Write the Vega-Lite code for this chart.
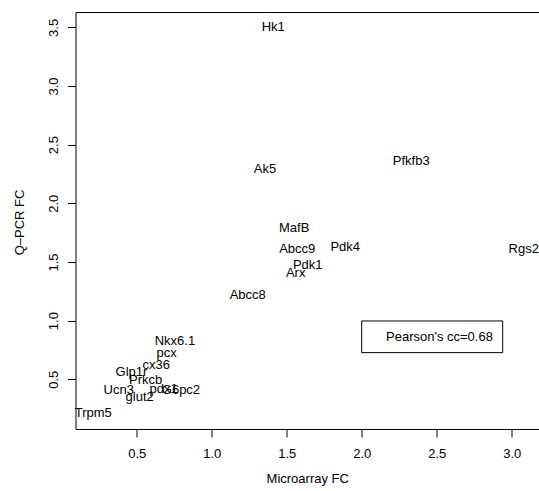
{
  "$schema": "https://vega.github.io/schema/vega-lite/v6.json",
  "autosize": {"type": "none"},
  "padding": {"left": 75.5, "top": 12, "right": 0, "bottom": 62},
  "width": 463.5,
  "height": 417,
  "background": "white",
  "config": {
    "view": {"stroke": null},
    "font": "Liberation Sans",
    "axis": {
      "grid": false,
      "domainColor": "black",
      "domainWidth": 1,
      "tickColor": "black",
      "tickWidth": 1,
      "tickSize": 8,
      "labelColor": "black",
      "labelFont": "Liberation Sans",
      "labelFontSize": 13,
      "titleColor": "black",
      "titleFont": "Liberation Sans",
      "titleFontSize": 13,
      "titleFontWeight": "normal"
    }
  },
  "datasets": {
    "genes": [
      {"gene": "Hk1", "x": 1.41, "y": 3.50},
      {"gene": "Ak5", "x": 1.355, "y": 2.29},
      {"gene": "Pfkfb3", "x": 2.33, "y": 2.36},
      {"gene": "MafB", "x": 1.55, "y": 1.79},
      {"gene": "Abcc9", "x": 1.57, "y": 1.61},
      {"gene": "Pdk4", "x": 1.89, "y": 1.63},
      {"gene": "Rgs2", "x": 3.08, "y": 1.61},
      {"gene": "Pdk1", "x": 1.64, "y": 1.47},
      {"gene": "Arx", "x": 1.56, "y": 1.41},
      {"gene": "Abcc8", "x": 1.24, "y": 1.22},
      {"gene": "Nkx6.1", "x": 0.755, "y": 0.83},
      {"gene": "pcx", "x": 0.70, "y": 0.72},
      {"gene": "cx36", "x": 0.63, "y": 0.62},
      {"gene": "Glp1r", "x": 0.465, "y": 0.56},
      {"gene": "Prkcb", "x": 0.56, "y": 0.49},
      {"gene": "Ucn3", "x": 0.38, "y": 0.41},
      {"gene": "pdx1", "x": 0.68, "y": 0.415},
      {"gene": "G6pc2", "x": 0.795, "y": 0.41},
      {"gene": "glut2", "x": 0.52, "y": 0.35},
      {"gene": "Trpm5", "x": 0.21, "y": 0.21}
    ],
    "legend": [
      {"x1": 2.0, "x2": 2.94, "y1": 0.727, "y2": 0.997, "tx": 2.162, "ty": 0.862, "label": "Pearson's cc=0.68"}
    ]
  },
  "layer": [
    {
      "data": {"name": "genes"},
      "mark": {"type": "text", "fontSize": 13, "font": "Liberation Sans", "color": "black", "align": "center", "baseline": "middle"},
      "encoding": {
        "x": {
          "field": "x", "type": "quantitative",
          "scale": {"domain": [0.092, 3.182], "nice": false, "zero": false},
          "axis": {
            "orient": "bottom",
            "values": [0.5, 1.0, 1.5, 2.0, 2.5, 3.0],
            "format": ".1f",
            "labelPadding": 10,
            "labelBaseline": "top",
            "title": "Microarray FC",
            "titleY": 49,
            "titleBaseline": "middle"
          }
        },
        "y": {
          "field": "y", "type": "quantitative",
          "scale": {"domain": [0.076, 3.631], "nice": false, "zero": false},
          "axis": {
            "orient": "left",
            "values": [0.5, 1.0, 1.5, 2.0, 2.5, 3.0, 3.5],
            "format": ".1f",
            "labelAngle": -90,
            "labelAlign": "center",
            "labelBaseline": "alphabetic",
            "labelPadding": 10,
            "title": "Q–PCR FC",
            "titleAngle": -90,
            "titleX": -56.5,
            "titleY": 210,
            "titleAlign": "center",
            "titleBaseline": "middle"
          }
        },
        "text": {"field": "gene"}
      }
    },
    {
      "data": {"name": "legend"},
      "mark": {"type": "rect", "fill": "white", "stroke": "black", "strokeWidth": 1},
      "encoding": {
        "x": {
          "field": "x1", "type": "quantitative",
          "scale": {"domain": [0.092, 3.182], "nice": false, "zero": false},
          "axis": {"orient": "top", "ticks": false, "labels": false, "title": null}
        },
        "x2": {"field": "x2"},
        "y": {
          "field": "y1", "type": "quantitative",
          "scale": {"domain": [0.076, 3.631], "nice": false, "zero": false},
          "axis": null
        },
        "y2": {"field": "y2"}
      }
    },
    {
      "data": {"name": "legend"},
      "mark": {"type": "text", "fontSize": 13, "font": "Liberation Sans", "color": "black", "align": "left", "baseline": "middle"},
      "encoding": {
        "x": {"field": "tx", "type": "quantitative", "scale": {"domain": [0.092, 3.182], "nice": false, "zero": false}, "axis": null},
        "y": {"field": "ty", "type": "quantitative", "scale": {"domain": [0.076, 3.631], "nice": false, "zero": false}, "axis": null},
        "text": {"field": "label"}
      }
    }
  ],
  "resolve": {"axis": {"x": "independent", "y": "independent"}}
}
